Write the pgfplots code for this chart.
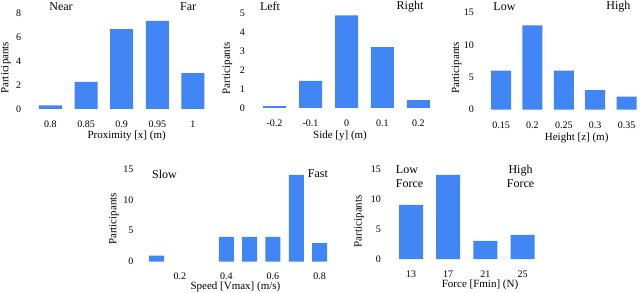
\documentclass[border=0pt]{standalone}
\usepackage{pgfplots}
\pgfplotsset{compat=1.18}
\usepackage{fontspec}
\setmainfont{Liberation Serif}
\definecolor{barblue}{RGB}{66,133,244}
\pgfplotsset{
  panel/.style={
    scale only axis, clip=false,
    ybar, bar width=#1,
    ymin=0,
    axis line style={draw=none},
    tick style={draw=none},
    /pgf/number format/assume math mode=true,
    ticklabel style={font=\fontsize{10}{11}\selectfont},
    yticklabel style={xshift=-8pt},
    xticklabel style={yshift=-4pt},
    label style={font=\fontsize{11}{12}\selectfont},
    ylabel={Participants},
    ylabel style={anchor=center, rotate=0},
  },
}
\tikzset{ptitle/.style={font=\fontsize{12}{14.5}\selectfont, anchor=center}}
\begin{document}
\begin{tikzpicture}[x=1pt,y=1pt]
\path[use as bounding box] (0,0) rectangle (640,292);

% Panel 1
\begin{axis}[panel=23pt, at={(32.7pt,183pt)}, anchor=south west,
  width=178pt, height=96pt, xmin=-0.5, xmax=4.5, ymax=8,
  ytick={0,2,4,6,8}, xtick={0,1,2,3,4},
  xticklabels={0.8,0.85,0.9,0.95,1},
  xlabel={Proximity [x] (m)},
  xlabel style={at={(axis description cs:0.528,-0.28)}, anchor=center},
  ylabel style={at={(axis description cs:-0.15,0.43)}}]
\addplot[fill=barblue, draw=none] coordinates {(0,0.3) (1,2.25) (2,6.65) (3,7.35) (4,3.0)};
\node[ptitle] at (rel axis cs:0.159,1.068) {Near};
\node[ptitle] at (rel axis cs:0.873,1.068) {Far};
\end{axis}

% Panel 2
\begin{axis}[panel=23pt, at={(256.5pt,184pt)}, anchor=south west,
  width=180pt, height=94.7pt, xmin=-0.5, xmax=4.5, ymax=5,
  ytick={0,1,2,3,4,5}, xtick={0,1,2,3,4},
  xticklabels={-0.2,-0.1,0,0.1,0.2},
  xlabel={Side [y] (m)},
  xlabel style={at={(axis description cs:0.464,-0.295)}, anchor=center},
  ylabel style={at={(axis description cs:-0.161,0.42)}}]
\addplot[fill=barblue, draw=none] coordinates {(0,0.1) (1,1.43) (2,4.89) (3,3.22) (4,0.42)};
\node[ptitle] at (rel axis cs:0.075,1.072) {Left};
\node[ptitle] at (rel axis cs:0.853,1.072) {Right};
\end{axis}

% Panel 3
\begin{axis}[panel=20pt, at={(485.3pt,182.3pt)}, anchor=south west,
  width=157pt, height=97.4pt, xmin=-0.5, xmax=4.5, ymax=15,
  ytick={0,5,10,15}, xtick={0,1,2,3,4},
  xticklabels={0.15,0.2,0.25,0.3,0.35},
  xlabel={Height [z] (m)},
  xlabel style={at={(axis description cs:0.582,-0.29)}, anchor=center},
  ylabel style={at={(axis description cs:-0.183,0.43)}}]
\addplot[fill=barblue, draw=none] coordinates {(0,6) (1,13) (2,6) (3,3) (4,2)};
\node[ptitle] at (rel axis cs:0.122,1.06) {Low};
\node[ptitle] at (rel axis cs:0.848,1.06) {High};
\end{axis}

% Panel 4
\begin{axis}[panel=15pt, at={(144.9pt,30.3pt)}, anchor=south west,
  width=186.3pt, height=92.9pt, xmin=0.05, xmax=0.85, ymax=15,
  ytick={0,5,10,15}, xtick={0.2,0.4,0.6,0.8},
  xticklabels={0.2,0.4,0.6,0.8},
  xticklabel style={yshift=1pt},
  xlabel={Speed [Vmax] (m/s)},
  xlabel style={at={(axis description cs:0.486,-0.272)}, anchor=center},
  ylabel style={at={(axis description cs:-0.166,0.46)}}]
\addplot[fill=barblue, draw=none] coordinates {(0.1,1) (0.4,4) (0.5,4) (0.6,4) (0.7,14) (0.8,3)};
\node[ptitle] at (rel axis cs:0.105,0.944) {Slow};
\node[ptitle] at (rel axis cs:0.929,0.944) {Fast};
\end{axis}

% Panel 5
\begin{axis}[panel=24pt, at={(392.4pt,33pt)}, anchor=south west,
  width=148.8pt, height=90pt, xmin=-0.5, xmax=3.5, ymax=15,
  ytick={0,5,10,15}, xtick={0,1,2,3},
  xticklabels={13,17,21,25},
  xlabel={Force [Fmin] (N)},
  xlabel style={at={(axis description cs:0.589,-0.29)}, anchor=center},
  ylabel style={at={(axis description cs:-0.224,0.42)}}]
\addplot[fill=barblue, draw=none] coordinates {(0,9) (1,14) (2,3) (3,4)};
\node[ptitle, anchor=west, align=left] at (rel axis cs:0,0.917) {Low\\Force};
\node[ptitle, align=center] at (rel axis cs:0.861,0.917) {High\\Force};
\end{axis}
\end{tikzpicture}
\end{document}
